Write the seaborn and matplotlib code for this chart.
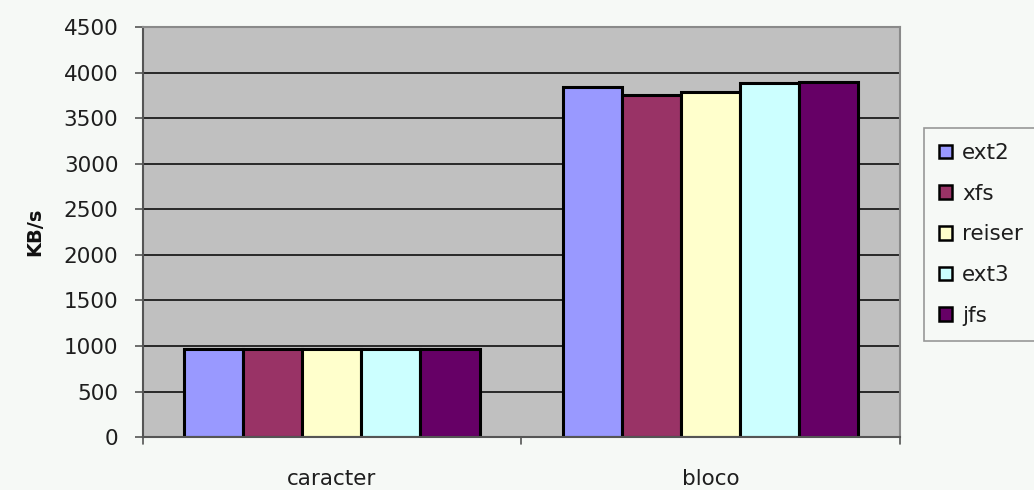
import matplotlib
matplotlib.use("Agg")
import matplotlib.pyplot as plt
import seaborn as sns
import pandas as pd
from matplotlib.patches import Patch

categories = ["caracter", "bloco"]
series = ["ext2", "xfs", "reiser", "ext3", "jfs"]
ext2 = [970, 3845]
xfs = [962, 3755]
reiser = [962, 3790]
ext3 = [965, 3880]
jfs = [965, 3900]
colors = ["#9999FF", "#993366", "#FFFFCC", "#CCFFFF", "#660066"]
yticks = list(range(0, 4501, 500))

rows = []
for name, vals in zip(series, [ext2, xfs, reiser, ext3, jfs]):
    for c, v in zip(categories, vals):
        rows.append({"cat": c, "fs": name, "val": v})
df = pd.DataFrame(rows)

sns.set_style("white")
plt.rcParams["font.family"] = ["DejaVu Sans"]

bg = "#F6F9F6"
fig = plt.figure(figsize=(10.34, 4.9), dpi=100)
fig.patch.set_facecolor(bg)
ax = fig.add_axes([0.138, 0.108, 0.732, 0.837])
ax.set_facecolor("#C0C0C0")

sns.barplot(data=df, x="cat", y="val", hue="fs", palette=colors, order=categories,
            hue_order=series, width=0.78, edgecolor="black", linewidth=2.2,
            ax=ax, legend=False, saturation=1)

ax.set_ylim(0, 4500)
ax.set_xlim(-0.5, 1.5)
ax.set_yticks(yticks)
ax.set_yticklabels([str(t) for t in yticks], fontsize=15.5, color="#1E1E1E")
for t in yticks[1:-1]:
    ax.axhline(t, color="black", linewidth=1.1, zorder=0.5)
ax.set_axisbelow(True)

ax.set_xticks([0, 1])
ax.set_xticklabels(categories, fontsize=15.5, color="#1E1E1E")
ax.tick_params(axis="x", length=0, pad=23)
ax.tick_params(axis="y", length=5.5, width=1.2, color="#555555", direction="out", pad=12, left=True)
for xv in [-0.5, 0.5, 1.5]:
    ax.plot([xv, xv], [0, -0.018], transform=ax.get_xaxis_transform(), color="#555555",
            linewidth=1.2, clip_on=False)

ax.set_xlabel("")
ax.set_ylabel("KB/s", fontsize=14, fontweight="bold", labelpad=14, color="#111111")

for s in ["top", "right"]:
    ax.spines[s].set_color("#8A8A8A")
    ax.spines[s].set_linewidth(1.5)
for s in ["left", "bottom"]:
    ax.spines[s].set_color("#555555")
    ax.spines[s].set_linewidth(1.5)

handles = [Patch(facecolor=c, edgecolor="black", linewidth=1.8, label=s) for c, s in zip(colors, series)]
leg = fig.legend(handles=handles, loc="upper left",
                 bbox_to_anchor=(924 / 1034, 1 - 128 / 490, 0.2, 0.0), mode="expand",
                 fontsize=15.5, frameon=True, fancybox=False, edgecolor="#808080",
                 handlelength=0.62, handleheight=0.62, handletextpad=0.45,
                 labelspacing=0.96, borderpad=0.7, borderaxespad=0)
leg.get_frame().set_linewidth(1.2)
leg.get_frame().set_facecolor(bg)
for txt in leg.get_texts():
    txt.set_color("#1E1E1E")

fig.savefig("out.png", dpi=100, facecolor=fig.get_facecolor())
